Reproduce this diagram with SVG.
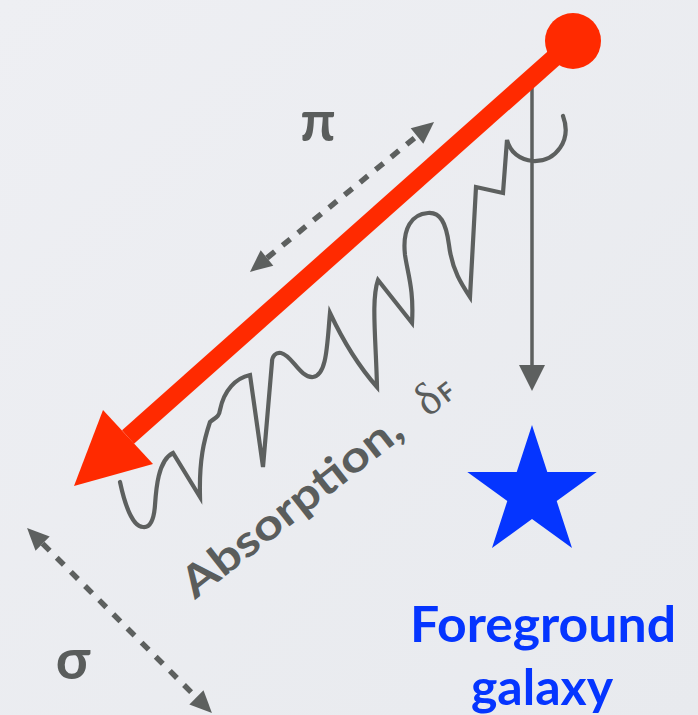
<svg xmlns="http://www.w3.org/2000/svg" width="698" height="715" viewBox="0 0 698 715">
<defs>
<linearGradient id="bg" x1="0" y1="0" x2="1" y2="1">
<stop offset="0" stop-color="#eeeff3"/>
<stop offset="1" stop-color="#e8eaee"/>
</linearGradient>
<marker id="dh" markerUnits="userSpaceOnUse" markerWidth="24" markerHeight="22" refX="0" refY="0" viewBox="0 -11 24 22" orient="auto-start-reverse" overflow="visible">
<path d="M0,-10 L22,0 L0,10 z" fill="#5d605f"/>
</marker>
</defs>
<style>
.gray{stroke:#5d605f;fill:none}
.dash{stroke:#5d605f;stroke-width:5.5;stroke-dasharray:10 10;fill:none}
.lbl{font-family:Lato,"Open Sans","DejaVu Sans",sans-serif;font-weight:700;fill:#5a5d5c}
.blue{font-family:Lato,"Open Sans",sans-serif;font-weight:700;fill:#0535ff;font-size:50px;text-anchor:middle}
</style>
<rect width="698" height="715" fill="url(#bg)"/>

<g id="connectors">
<line id="pi-arrow" class="dash" x1="267" y1="258" x2="417" y2="136" marker-start="url(#dh)" marker-end="url(#dh)"/>
<line id="sigma-arrow" class="dash" x1="42.6" y1="543.6" x2="196.4" y2="697.4" marker-start="url(#dh)" marker-end="url(#dh)"/>
<g id="down-arrow">
<line class="gray" x1="532" y1="86" x2="532" y2="368" stroke-width="3.5"/>
<polygon points="519,365 545,365 532,391" fill="#5d605f"/>
</g>
</g>

<g id="spectrum">
<path class="gray" stroke-width="4.2" stroke-linejoin="miter" stroke-linecap="round" d="M563,116 C572,140 556,162 533,161 C520,160 510,152 507,140 L503,193 L476,187 L470,297 C462,285 452,270 449,245 C446,222 440,212 428,213 C412,214 402,228 405,255 C408,275 414,290 412,323 L378,280 C371,300 376,340 377,387 C362,370 345,345 330,313 C327,345 327,375 313,377 C300,378 292,355 281,353 C276,352 272,356 272,362 L263,467 L250,375 C236,378 224,390 220,410 C219,418 214,418 210,422 C204,440 199,460 200,497 L173,453 C158,460 156,490 155,505 C154,520 150,528 143,527 C134,527 126,510 120,482"/>
</g>

<g id="sightline">
<line x1="573" y1="41" x2="128" y2="437" stroke="#ff2a00" stroke-width="18"/>
<polygon points="103,410 153,464 74,486" fill="#ff2a00"/>
<circle cx="573" cy="41" r="28" fill="#ff2a00"/>
</g>

<g id="galaxy">
<polygon points="532,425 547.3,472 596.7,472 556.7,501 572,548 532,519 492,548 507.3,501 467.3,472 516.7,472" fill="#0535ff"/>
<text class="blue" x="543" y="642" textLength="266" lengthAdjust="spacingAndGlyphs">Foreground</text>
<text class="blue" x="542" y="705">galaxy</text>
</g>

<g id="labels">
<text class="lbl" x="318" y="141" font-size="56" text-anchor="middle">π</text>
<text class="lbl" x="73" y="679" font-size="56" text-anchor="middle">σ</text>
<g transform="translate(195,600) rotate(-38)">
<text class="lbl" x="0" y="0" font-size="43" textLength="268" lengthAdjust="spacingAndGlyphs">Absorption,</text>
<text x="296" y="0" font-size="46" font-family="'Liberation Serif',serif" fill="#5a5d5c">δ</text>
<text x="319" y="0" font-size="25" font-family="Lato,'Open Sans',sans-serif" font-weight="700" fill="#5a5d5c">F</text>
</g>
</g>
</svg>
